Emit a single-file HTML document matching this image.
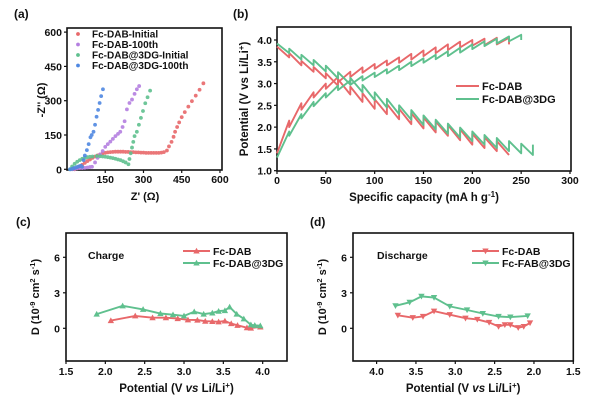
<!DOCTYPE html>
<html><head><meta charset="utf-8"><style>
html,body{margin:0;padding:0;background:#fff;}
svg{display:block;font-family:"Liberation Sans",Arial,sans-serif;font-weight:bold;}
</style></head><body>
<svg id="fig" width="600" height="418" viewBox="0 0 600 418" xmlns="http://www.w3.org/2000/svg">
</svg>
<script>
// ---------- Panel (a) data: Nyquist [Z', -Z''] ----------
const aRedZ = [30,40,50,60,70,80,90,100,110,120,130,140,150,160,170,180,190,200,210,220,230,240,250,260,270,280,290,300,310,320,330,340,350,360,370,380,392,400,410,418,424,432,440,450,462,476,490,505,520,535];
const aRedY = [0,5,12,20,28,36,43,50,56,61,65,69,72,74,75,76,77,77,77,77,76,76,75,75,74,74,73,73,72,72,72,72,72,72,73,75,82,100,120,142,164,185,205,228,250,274,298,322,348,376];
const aPurZ = [20,30,40,50,60,70,80,90,98,110,120,130,140,150,160,170,180,190,200,209,218,226,235,245,255,265,274,283];
const aPurY = [0,2,4,5,5,6,8,10,11,30,50,65,80,98,110,121,133,145,155,164,185,210,262,290,305,330,350,364];
const aGrnZ = [12,20,30,40,50,60,70,80,90,100,117,130,140,150,160,170,180,190,200,210,220,230,241,245,250,255,260,265,274,282,290,298,307,316,326];
const aGrnY = [0,12,24,33,40,46,50,53,55,56,58,57,56,55,53,51,49,46,43,40,35,30,22,45,70,95,120,145,164,195,225,255,289,315,344];
const aBluZ = [12,20,25,30,35,40,45,50,55,59,65,70,78,85,92,97,104,110,116,122,128,134,141];
const aBluY = [0,2,4,6,8,10,12,14,16,11,40,60,84,110,140,150,164,195,230,260,290,320,350];
const aXTicks = [150,300,450,600];
const aYTicks = [0,150,300,450,600];

// ---------- Panel (b) data: GITT ----------
const bCap = [12.5,25,37.5,50,62.5,75,87.5,100,112.5,125,137.5,150,162.5,175,187.5,200,212.5,225,237.5,250,262];
const bRedChV0 = 1.4;
const bRedChEnd = [2.15,2.55,2.8,3.0,3.15,3.27,3.37,3.45,3.53,3.6,3.68,3.76,3.83,3.9,3.96,4.0,4.03,4.05,4.05];
const bRedChRel = [2.0,2.4,2.68,2.88,3.03,3.15,3.25,3.34,3.42,3.48,3.55,3.63,3.7,3.77,3.83,3.87,3.88,3.9,3.9];
const bRedDisV0 = 3.85;
const bRedDisEnd = [3.6,3.42,3.27,3.12,2.95,2.75,2.58,2.42,2.3,2.18,2.07,1.97,1.88,1.8,1.7,1.6,1.52,1.45,1.36];
const bRedDisRel = [3.7,3.52,3.38,3.24,3.1,2.93,2.78,2.64,2.53,2.42,2.32,2.22,2.13,2.05,1.95,1.85,1.77,1.68,1.36];
const bGrnChV0 = 1.3;
const bGrnChEnd = [1.9,2.3,2.58,2.78,2.95,3.07,3.17,3.25,3.33,3.41,3.5,3.58,3.66,3.74,3.82,3.9,3.97,4.03,4.08,4.12];
const bGrnChRel = [1.8,2.2,2.48,2.68,2.85,2.97,3.07,3.15,3.23,3.31,3.4,3.48,3.56,3.63,3.71,3.79,3.86,3.92,3.97,4.0];
const bGrnDisV0 = 3.92;
const bGrnDisEnd = [3.7,3.55,3.42,3.28,3.12,2.98,2.8,2.62,2.45,2.3,2.17,2.05,1.95,1.85,1.76,1.68,1.6,1.52,1.45,1.4,1.36];
const bGrnDisRel = [3.8,3.66,3.54,3.41,3.26,3.13,2.97,2.8,2.65,2.5,2.39,2.27,2.17,2.08,1.99,1.9,1.82,1.75,1.68,1.62,1.6];
const bXTicks = [0,50,100,150,200,250,300];
const bYTicks = [1.0,1.5,2.0,2.5,3.0,3.5,4.0];

// ---------- Panel (c) data: charge diffusion ----------
const cRedV = [2.07,2.38,2.6,2.77,2.92,3.05,3.17,3.27,3.36,3.44,3.52,3.6,3.68,3.8,3.85,3.97];
const cRedD = [0.65,1.05,0.9,0.9,0.82,0.72,0.7,0.6,0.58,0.55,0.62,0.4,0.25,0.05,0.02,0.12];
const cGrnV = [1.89,2.22,2.48,2.7,2.86,3.0,3.13,3.25,3.36,3.44,3.52,3.58,3.67,3.76,3.85,3.9,3.97];
const cGrnD = [1.2,1.9,1.6,1.25,1.15,1.05,1.4,1.2,1.3,1.45,1.5,1.8,1.2,0.8,0.3,0.25,0.22];
// ---------- Panel (d) data: discharge diffusion ----------
const dRedV = [3.73,3.54,3.41,3.27,3.07,2.87,2.72,2.57,2.45,2.37,2.3,2.2,2.13,2.05];
const dRedD = [1.1,0.9,1.0,1.45,1.15,0.85,0.75,0.5,0.15,0.3,0.3,0.05,0.15,0.45];
const dGrnV = [3.76,3.58,3.43,3.27,3.07,2.85,2.65,2.45,2.3,2.08];
const dGrnD = [1.9,2.2,2.7,2.6,1.85,1.55,1.25,1.0,0.95,1.05];
const cdXTicks = [1.5,2.0,2.5,3.0,3.5,4.0];
const cdYTicks = [0,3,6];

const NS = "http://www.w3.org/2000/svg";
const svg = document.getElementById('fig');
function el(tag, attrs, parent, text){
  const e = document.createElementNS(NS, tag);
  for (const k in attrs) e.setAttribute(k, attrs[k]);
  if (text !== undefined) e.textContent = text;
  (parent||svg).appendChild(e);
  return e;
}
function lin(d0,d1,r0,r1){ return v => r0 + (v-d0)/(d1-d0)*(r1-r0); }
const RED='#e8686a', GRN='#5fc08e', PUR='#b47fe0', BLU='#4f88e2';

function frame(g, x0,y0,x1,y1){
  const r = el('rect',{x:x0,y:y0,width:x1-x0,height:y1-y0,fill:'none',stroke:'#111','stroke-width':1.6},g);
  
  
}
function txt(g,x,y,s,opts,name){
  const t = el('text',Object.assign({x:x,y:y,'font-size':11,fill:'#111'},opts||{}),g,s);
  
  
  return t;
}

// ===== Panel (a) =====
(function(){
  const g = el('g',{});
  
  
  const X = lin(0,608,67,222), Y = lin(0,618,169.3,28);
  frame(g,67,28,222,170);
  txt(g,14,18,'(a)',{'font-size':12},'panel-a-label');
  aXTicks.forEach(v=>{
    const t = el('line',{x1:X(v),x2:X(v),y1:170,y2:173,stroke:'#111','stroke-width':1.2},g);
     
    txt(g,X(v),183,String(v),{'text-anchor':'middle','font-size':10.5},'x-tick-label');
  });
  aYTicks.forEach(v=>{
    const t = el('line',{x1:64,x2:67,y1:Y(v),y2:Y(v),stroke:'#111','stroke-width':1.2},g);
     
    txt(g,62,Y(v)+4,String(v),{'text-anchor':'end','font-size':10.5},'y-tick-label');
  });
  txt(g,145,200,"Z' (Ω)",{'text-anchor':'middle','font-size':11},'x-axis-title');
  txt(g,0,0,"-Z'' (Ω)",{'text-anchor':'middle','font-size':11,transform:'translate(45,100) rotate(-90)'},'y-axis-title');
  const series = [[aRedZ,aRedY,RED,'fc-dab-initial'],[aPurZ,aPurY,PUR,'fc-dab-100th'],[aGrnZ,aGrnY,GRN,'fc-dab-3dg-initial'],[aBluZ,aBluY,BLU,'fc-dab-3dg-100th']];
  series.forEach(s=>{
    const sg = el('g',{fill:s[2],opacity:0.9},g);
    
    
    s[0].forEach((z,i)=>{
      const c = el('circle',{cx:X(z),cy:Y(s[1][i]),r:1.9},sg);
      
      
    });
  });
  const leg = [['Fc-DAB-Initial',RED],['Fc-DAB-100th',PUR],['Fc-DAB@3DG-Initial',GRN],['Fc-DAB@3DG-100th',BLU]];
  leg.forEach((l,i)=>{
    const y = 34+i*10.5;
    const c = el('circle',{cx:78,cy:y,r:1.9,fill:l[1]},g);
     
    txt(g,92,y+3.5,l[0],{'font-size':10},'legend-entry');
  });
})();

// ===== Panel (b) =====
(function(){
  const g = el('g',{});
  
  
  const X = lin(0,300,277,570), Y = lin(1.0,4.0,170.7,40);
  frame(g,277,27,571,171);
  txt(g,233,18,'(b)',{'font-size':12},'panel-b-label');
  bXTicks.forEach(v=>{
    const t = el('line',{x1:X(v),x2:X(v),y1:171,y2:174,stroke:'#111','stroke-width':1.2},g);
     
    txt(g,X(v),184,String(v),{'text-anchor':'middle','font-size':10.5},'x-tick-label');
  });
  bYTicks.forEach(v=>{
    const t = el('line',{x1:274,x2:277,y1:Y(v),y2:Y(v),stroke:'#111','stroke-width':1.2},g);
     
    txt(g,272,Y(v)+4,v.toFixed(1),{'text-anchor':'end','font-size':10.5},'y-tick-label');
  });
  const xt = txt(g,424,201,'Specific capacity (mA h g',{'text-anchor':'middle','font-size':11.5},'x-axis-title');
  el('tspan',{dy:-4,'font-size':8},xt,'-1');
  el('tspan',{dy:4},xt,')');
  const yt = txt(g,0,0,'Potential (V vs Li/Li',{'text-anchor':'middle','font-size':11.5,transform:'translate(248,99) rotate(-90)'},'y-axis-title');
  el('tspan',{dy:-4,'font-size':8},yt,'+');
  el('tspan',{dy:4},yt,')');
  function gitt(v0,ends,rels,color,name){
    let d = 'M'+X(0)+','+Y(v0);
    ends.forEach((v,i)=>{
      d += ' L'+X(bCap[i]).toFixed(1)+','+Y(v).toFixed(1)+' L'+X(bCap[i]).toFixed(1)+','+Y(rels[i]).toFixed(1);
    });
    const p = el('path',{d:d,fill:'none',stroke:color,'stroke-width':1.9,'stroke-linejoin':'round'},g);
    
    
  }
  gitt(bRedChV0,bRedChEnd,bRedChRel,RED,'fc-dab-charge-curve');
  gitt(bRedDisV0,bRedDisEnd,bRedDisRel,RED,'fc-dab-discharge-curve');
  gitt(bGrnChV0,bGrnChEnd,bGrnChRel,GRN,'fc-dab-3dg-charge-curve');
  gitt(bGrnDisV0,bGrnDisEnd,bGrnDisRel,GRN,'fc-dab-3dg-discharge-curve');
  [['Fc-DAB',RED],['Fc-DAB@3DG',GRN]].forEach((l,i)=>{
    const y = 86+i*13;
    const ln = el('line',{x1:456,x2:479,y1:y,y2:y,stroke:l[1],'stroke-width':2},g);
     
    txt(g,482,y+4,l[0],{'font-size':11},'legend-entry');
  });
})();

// ===== Panels (c),(d) =====
function diffPanel(opts){
  const g = el('g',{});
  
  
  const X = lin(opts.xd0,opts.xd1,opts.x0,opts.x1), Y = lin(0,6,328.3,257.3);
  frame(g,opts.x0,233,opts.x1,361);
  txt(g,opts.lx,226,opts.label,{'font-size':12},'panel-label');
  cdXTicks.forEach(v=>{
    const t = el('line',{x1:X(v),x2:X(v),y1:361,y2:364,stroke:'#111','stroke-width':1.2},g);
     
    txt(g,X(v),375,v.toFixed(1),{'text-anchor':'middle','font-size':10.5},'x-tick-label');
  });
  cdYTicks.forEach(v=>{
    const t = el('line',{x1:opts.x0-3,x2:opts.x0,y1:Y(v),y2:Y(v),stroke:'#111','stroke-width':1.2},g);
     
    txt(g,opts.x0-6,Y(v)+4,String(v),{'text-anchor':'end','font-size':10.5},'y-tick-label');
  });
  const xc = (opts.x0+opts.x1)/2;
  const xt = txt(g,xc,392,'Potential (V ',{'text-anchor':'middle','font-size':11.5},'x-axis-title');
  el('tspan',{'font-style':'italic'},xt,'vs');
  el('tspan',{},xt,' Li/Li');
  el('tspan',{dy:-4,'font-size':8},xt,'+');
  el('tspan',{dy:4},xt,')');
  const yt = txt(g,0,0,'D (10',{'text-anchor':'middle','font-size':11,transform:'translate('+(opts.x0-27)+',297) rotate(-90)'},'y-axis-title');
  el('tspan',{dy:-4,'font-size':7.5},yt,'-9');
  el('tspan',{dy:4},yt,' cm');
  el('tspan',{dy:-4,'font-size':7.5},yt,'2');
  el('tspan',{dy:4},yt,' s');
  el('tspan',{dy:-4,'font-size':7.5},yt,'-1');
  el('tspan',{dy:4},yt,')');
  txt(g,opts.tx,259,opts.title,{'font-size':10.5},'annotation');
  function marker(x,y,color,up){
    const s=3.2;
    const pts = up ? [x,y-s,x-s,y+s*0.8,x+s,y+s*0.8] : [x,y+s,x-s,y-s*0.8,x+s,y-s*0.8];
    const m = el('polygon',{points:pts.join(','),fill:color},g);
     
  }
  opts.series.forEach(s=>{
    const d = s[0].map((v,i)=>(i?'L':'M')+X(v).toFixed(1)+','+Y(s[1][i]).toFixed(1)).join(' ');
    const p = el('path',{d:d,fill:'none',stroke:s[2],'stroke-width':1.9},g);
     
    s[0].forEach((v,i)=>marker(X(v),Y(s[1][i]),s[2],opts.up));
  });
  opts.legend.forEach((l,i)=>{
    const y = 251+i*12;
    const ln = el('line',{x1:opts.legX,x2:opts.legX+27,y1:y,y2:y,stroke:l[1],'stroke-width':2},g);
     
    marker(opts.legX+13.5,y,l[1],opts.up);
    txt(g,opts.legX+30,y+4,l[0],{'font-size':10.5},'legend-entry');
  });
}
diffPanel({name:'panel-c',label:'(c)',lx:16,x0:66,x1:287,xd0:1.5,xd1:4.0+0.5*(287-262.7)/39.3,title:'Charge',tx:88,up:true,legX:183,
  series:[[cRedV,cRedD,RED,'fc-dab-line'],[cGrnV,cGrnD,GRN,'fc-dab-3dg-line']],
  legend:[['Fc-DAB',RED],['Fc-DAB@3DG',GRN]]});
diffPanel({name:'panel-d',label:'(d)',lx:310,x0:353,x1:573.3,xd0:4.3,xd1:1.5,title:'Discharge',tx:377,up:false,legX:472,
  series:[[dRedV,dRedD,RED,'fc-dab-line'],[dGrnV,dGrnD,GRN,'fc-fab-3dg-line']],
  legend:[['Fc-DAB',RED],['Fc-FAB@3DG',GRN]]});
</script>
</body></html>
